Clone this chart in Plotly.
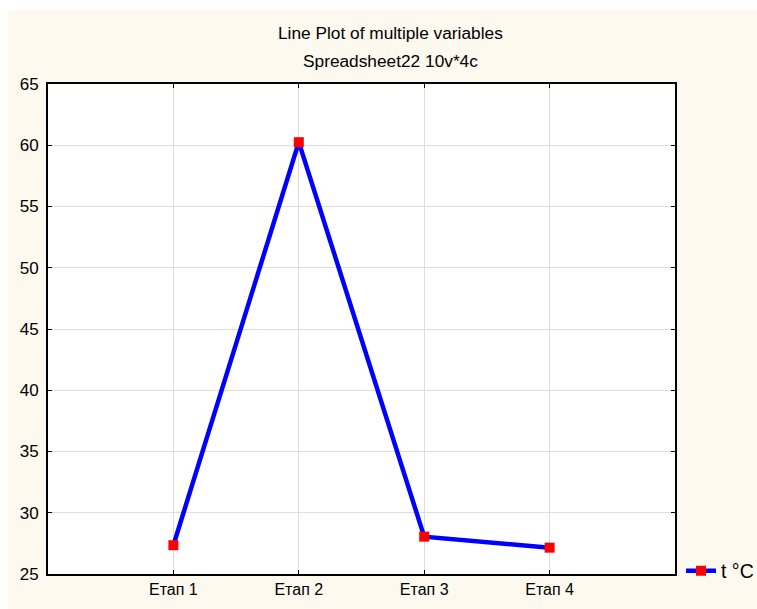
import plotly.graph_objects as go

categories = ["Етап 1", "Етап 2", "Етап 3", "Етап 4"]
values = [27.35, 60.25, 28.05, 27.15]
series_name = "t °C"
y_ticks = [25, 30, 35, 40, 45, 50, 55, 60, 65]

W, H = 757, 609
L, R, T, B = 48, 82, 84, 35
pw, ph = W - L - R, H - T - B

font_family = "Liberation Sans, Arial, sans-serif"

fig = go.Figure()
fig.add_trace(go.Scatter(
    x=list(range(len(categories))), y=values, name=series_name,
    mode="lines+markers",
    line=dict(color="#0000FF", width=4.5),
    marker=dict(symbol="square", color="#FF0000", size=10),
))

cream = "#FDF9EF"
fig.update_layout(
    width=W, height=H,
    margin=dict(l=L, r=R, t=T, b=B, autoexpand=False),
    paper_bgcolor=cream, plot_bgcolor="white",
    font=dict(family=font_family, size=14, color="black"),
    showlegend=True,
    legend=dict(x=(681 - L) / pw, y=(574 - 571) / ph, xanchor="left", yanchor="middle",
                bgcolor="rgba(0,0,0,0)", font=dict(size=19.5),
                itemwidth=30, tracegroupgap=0),
    annotations=[
        dict(text="Line Plot of multiple variables", xref="paper", yref="paper",
             x=(390 - L) / pw, y=(574 - 33) / ph, showarrow=False,
             font=dict(size=17.3), xanchor="center", yanchor="middle"),
        dict(text="Spreadsheet22 10v*4c", xref="paper", yref="paper",
             x=(390 - L) / pw, y=(574 - 61) / ph, showarrow=False,
             font=dict(size=17.3), xanchor="center", yanchor="middle"),
    ],
    shapes=[
        dict(type="rect", xref="paper", yref="paper",
             x0=-L / pw - 0.01, x1=(8 - L) / pw, y0=-B / ph - 0.01, y1=(H - B) / ph + 0.01,
             fillcolor="white", line=dict(width=0), layer="below"),
        dict(type="rect", xref="paper", yref="paper",
             x0=-L / pw - 0.01, x1=(W - L) / pw + 0.01, y0=(574 - 10) / ph, y1=(H - B) / ph + 0.01,
             fillcolor="white", line=dict(width=0), layer="below"),
    ],
)
fig.update_xaxes(
    range=[-1, 4], tickmode="array", tickvals=list(range(len(categories))),
    ticktext=categories, showgrid=True, gridcolor="#DDDDDD", gridwidth=1,
    showline=True, linecolor="black", linewidth=2, mirror="ticks",
    ticks="inside", ticklen=4, tickcolor="black", zeroline=False,
    tickfont=dict(size=16),
)
fig.update_yaxes(
    range=[25, 65], tickmode="array", tickvals=y_ticks,
    showgrid=True, gridcolor="#DDDDDD", gridwidth=1,
    showline=True, linecolor="black", linewidth=2, mirror="ticks",
    ticks="inside", ticklen=4, tickcolor="black", zeroline=False,
    tickfont=dict(size=17), ticklabelstandoff=4,
)
fig.write_html("out.html", config={"displayModeBar": False},
               post_script="document.body.style.margin='0';")
